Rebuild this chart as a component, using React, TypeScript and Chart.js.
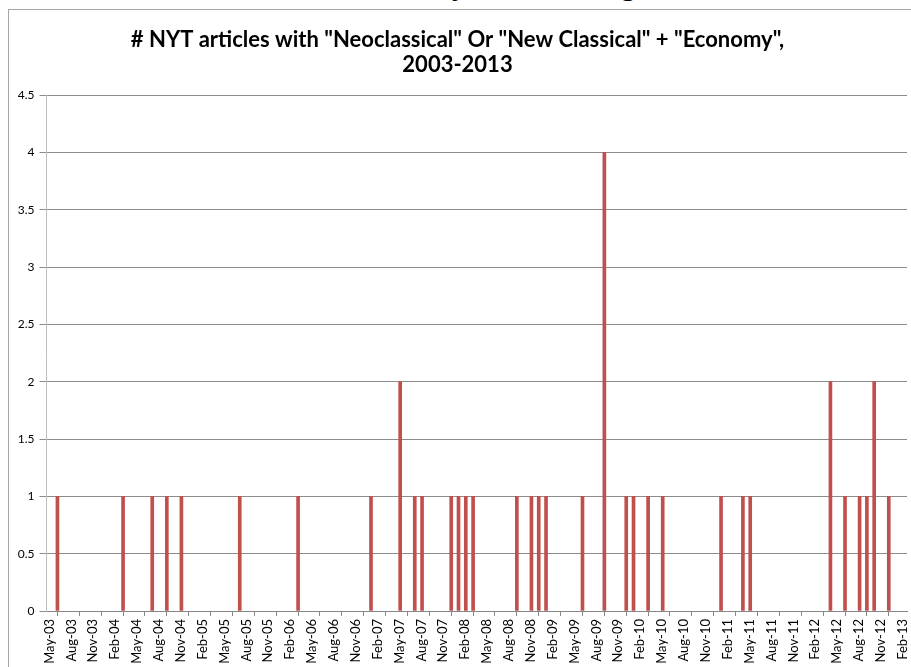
import React, { useEffect, useRef } from "react";
import { Chart, registerables } from "chart.js";

Chart.register(...registerables);

// First month shown on the date axis (month index 0)
const START_YEAR = 2003;
const START_MONTH = 5; // May
const AXIS_MONTHS = 118; // axis runs May-03 .. end of Feb-13

// Months with articles (YYYY-MM) and the article counts
const months = [
  "2003-06", "2004-03", "2004-07", "2004-09", "2004-11", "2005-07", "2006-03",
  "2007-01", "2007-05", "2007-07", "2007-08", "2007-12", "2008-01", "2008-02",
  "2008-03", "2008-09", "2008-11", "2008-12", "2009-01", "2009-06", "2009-09",
  "2009-12", "2010-01", "2010-03", "2010-05", "2011-01", "2011-04", "2011-05",
  "2012-04", "2012-06", "2012-08", "2012-09", "2012-10", "2012-12",
];
const counts = [
  1, 1, 1, 1, 1, 1, 1,
  1, 2, 1, 1, 1, 1, 1,
  1, 1, 1, 1, 1, 1, 4,
  1, 1, 1, 1, 1, 1, 1,
  2, 1, 1, 1, 2, 1,
];

// Tick labels, every 3 months
const xTickLabels = [
  "May-03", "Aug-03", "Nov-03",
  "Feb-04", "May-04", "Aug-04", "Nov-04",
  "Feb-05", "May-05", "Aug-05", "Nov-05",
  "Feb-06", "May-06", "Aug-06", "Nov-06",
  "Feb-07", "May-07", "Aug-07", "Nov-07",
  "Feb-08", "May-08", "Aug-08", "Nov-08",
  "Feb-09", "May-09", "Aug-09", "Nov-09",
  "Feb-10", "May-10", "Aug-10", "Nov-10",
  "Feb-11", "May-11", "Aug-11", "Nov-11",
  "Feb-12", "May-12", "Aug-12", "Nov-12",
  "Feb-13",
];
const yTickValues = [0, 0.5, 1, 1.5, 2, 2.5, 3, 3.5, 4, 4.5];

const titleLines = [
  '# NYT articles with "Neoclassical" Or "New Classical" + "Economy",',
  "2003-2013",
];

function monthIndex(ym: string): number {
  const [y, m] = ym.split("-").map(Number);
  return (y - START_YEAR) * 12 + (m - START_MONTH);
}

export default function App() {
  const canvasRef = useRef<HTMLCanvasElement>(null);

  useEffect(() => {
    const canvas = canvasRef.current;
    if (!canvas) return;
    const points = months.map((ym, i) => ({ x: monthIndex(ym) + 0.5, y: counts[i] }));
    const chart = new Chart(canvas, {
      type: "bar",
      data: {
        datasets: [
          {
            data: points as any,
            backgroundColor: "#C0504D",
            borderWidth: 0,
            barThickness: 3,
          },
        ],
      },
      options: {
        responsive: false,
        animation: false,
        devicePixelRatio: 1,
        layout: { padding: { left: 8, right: 4, top: 0, bottom: 0 } },
        plugins: {
          legend: { display: false },
          tooltip: { enabled: false },
          title: {
            display: true,
            text: titleLines,
            color: "#000",
            font: { family: "Lato", size: 22, weight: "bold", lineHeight: 25 / 22 },
            padding: { top: 27, bottom: 18 },
          },
        },
        scales: {
          x: {
            type: "linear",
            min: 0,
            max: AXIS_MONTHS,
            offset: false,
            grid: {
              drawOnChartArea: false,
              drawTicks: true,
              tickLength: 5,
              color: "#868686",
            },
            border: { color: "#868686", width: 1 },
            ticks: {
              stepSize: 3,
              includeBounds: false,
              autoSkip: false,
              minRotation: 90,
              maxRotation: 90,
              padding: 3,
              labelOffset: 3,
              color: "#000",
              font: { family: "Lato", size: 13 },
              callback: (v: any) => {
                const i = Math.round(Number(v) / 3);
                return xTickLabels[i] ?? "";
              },
            },
            afterFit: (scale: any) => {
              scale.height = 56;
              scale.paddingLeft = 0;
              scale.paddingRight = 0;
            },
          },
          y: {
            min: 0,
            max: 4.5,
            grid: {
              color: "#8c8c8c",
              drawTicks: true,
              tickLength: 7,
            },
            border: { color: "#bfbfbf", width: 1 },
            ticks: {
              stepSize: 0.5,
              padding: 5,
              color: "#000",
              font: { family: "Lato", size: 12 },
              callback: (v: any) => {
                const n = Number(v);
                return yTickValues.includes(n) ? String(n) : "";
              },
            },
            afterFit: (scale: any) => {
              scale.width = 38.5;
              scale.paddingTop = 0;
              scale.paddingBottom = 0;
            },
          },
        },
      },
    });
    return () => chart.destroy();
  }, []);

  return (
    <div
      style={{
        position: "fixed",
        left: 0,
        top: 0,
        width: 911,
        height: 667,
        overflow: "hidden",
        background: "#fff",
      }}
    >
      <div
        style={{
          position: "absolute",
          left: 344,
          top: -34,
          fontFamily: '"Liberation Serif", serif',
          fontStyle: "italic",
          fontSize: 34,
          lineHeight: "34px",
          whiteSpace: "nowrap",
          color: "#000",
        }}
      >
        Economy, NGC, Prog.
      </div>
      <div
        style={{
          position: "absolute",
          left: 8,
          top: 9,
          width: 1000,
          height: 1000,
          border: "1px solid #a6a6a6",
          boxSizing: "border-box",
        }}
      />
      <canvas
        ref={canvasRef}
        width={911}
        height={667}
        style={{ position: "absolute", left: 0, top: 0, width: 911, height: 667 }}
      />
    </div>
  );
}
